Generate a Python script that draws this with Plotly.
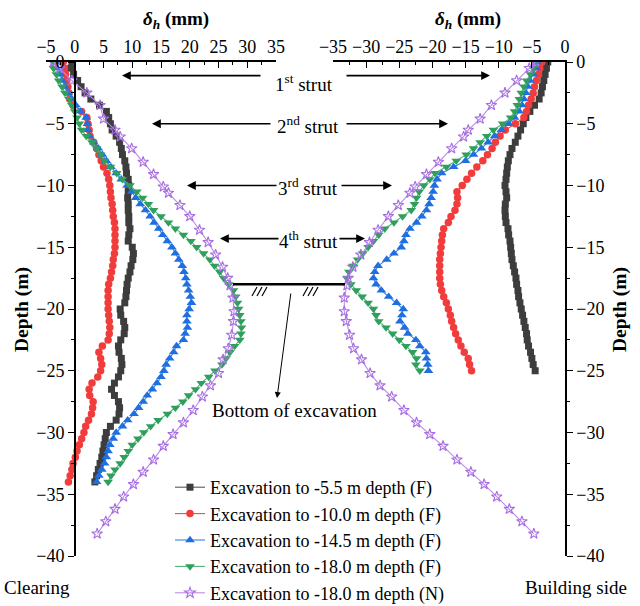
import plotly.graph_objects as go

W, H = 640, 606

# ---------------- data ----------------
DEPTH_L = [0, -0.5, -1, -1.5, -2, -2.5, -3, -3.5, -4, -4.5,
           -5, -5.5, -6, -6.5, -7, -7.5, -8, -8.5, -9, -9.5,
           -10, -10.5, -11, -11.5, -12, -12.5, -13, -13.5, -14, -14.5,
           -15, -15.5, -16, -16.5, -17, -17.5, -18, -18.5, -19, -19.5,
           -20, -20.5, -21, -21.5, -22, -22.5, -23, -23.5, -24, -24.5,
           -25, -25.5, -26, -26.5, -27, -27.5, -28, -28.5, -29, -29.5,
           -30, -30.5, -31, -31.5, -32, -32.5, -33, -33.5, -34]
DEPTH_R = DEPTH_L[:51]

L_55 = [-0.5, -0.7, -0.2, 0.5, 1.1, 1.8, 2.8, 4.3, 5.5, 5.9,
        6.2, 6.5, 7.2, 7.8, 8.1, 8.3, 8.7, 8.9, 9.0, 9.3,
        9.4, 9.3, 9.2, 9.3, 9.3, 9.4, 9.4, 9.6, 9.4, 9.3,
        10.0, 10.2, 10.1, 9.8, 9.6, 9.3, 9.1, 9.0, 8.9, 8.7,
        7.9, 8.0, 8.5, 8.7, 8.6, 8.0, 7.6, 7.7, 8.1, 8.2,
        8.0, 7.6, 6.9, 6.4, 6.9, 7.6, 7.8, 7.7, 7.2, 6.2,
        5.5, 5.3, 5.1, 4.9, 4.7, 4.4, 4.1, 3.8, 3.5]
L_100 = [-2.0, -1.8, -1.6, -1.4, -1.2, -1.0, -0.9, -0.3, 1.2, 2.1,
         2.3, 2.5, 2.65, 3.3, 3.8, 4.2, 4.6, 5.0, 5.6, 5.9,
         6.1, 6.2, 6.3, 6.5, 6.6, 6.7, 6.9, 7.0, 7.0, 7.0,
         7.0, 6.9, 6.7, 6.6, 6.4, 6.2, 5.9, 5.8, 5.8, 5.8,
         5.8, 5.9, 6.0, 6.1, 6.0, 5.8, 4.8, 4.2, 4.5, 4.7,
         4.5, 4.0, 3.0, 2.5, 2.6, 3.2, 3.1, 2.9, 2.4, 1.9,
         1.6, 1.2, 0.8, 0.4, 0.1, -0.3, -0.5, -0.8, -1.1]
L_145 = [-3.3, -3.1, -2.6, -2.2, -1.7, -1.2, -0.5, 0.2, 1.0, 2.0,
         2.2, 2.3, 2.6, 3.3, 4.1, 4.8, 5.5, 6.3, 7.2, 8.1,
         9.1, 9.9, 10.6, 11.4, 12.3, 13.1, 13.8, 14.6, 15.3, 16.1,
         16.9, 17.5, 18.1, 18.7, 19.0, 19.3, 19.5, 19.8, 20.1, 20.3,
         19.9, 19.5, 19.5, 19.6, 19.2, 18.9, 17.7, 17.2, 16.5, 15.9,
         15.5, 15.0, 14.3, 13.5, 12.6, 11.9, 11.1, 10.3, 9.2, 8.3,
         7.2, 6.7, 6.1, 5.8, 5.5, 5.2, 4.7, 4.2, 3.8]
L_180 = [-3.8, -3.7, -3.2, -2.8, -2.2, -1.7, -1.0, -0.5, 0.0, 0.4,
         0.8, 1.2, 2.0, 3.0, 3.8, 4.5, 5.2, 6.2, 7.3, 8.3,
         9.6, 10.8, 11.8, 12.8, 13.7, 15.0, 16.3, 17.5, 18.9, 20.2,
         21.2, 22.4, 23.5, 24.3, 25.2, 25.9, 26.8, 27.6, 28.0, 28.3,
         28.5, 28.7, 28.9, 29.0, 28.9, 28.7, 27.8, 27.0, 26.3, 25.6,
         24.4, 23.3, 22.0, 21.0, 19.8, 18.8, 17.5, 16.1, 14.5, 13.2,
         12.0, 11.0, 10.0, 9.3, 8.6, 7.9, 7.0, 6.3, 5.8]

R_55 = [-2.6, -2.8, -3.0, -3.2, -3.4, -3.6, -3.9, -4.6, -5.3, -5.9,
        -6.3, -6.7, -7.1, -7.5, -8.0, -8.3, -8.55, -8.7, -8.8, -8.9,
        -9.05, -8.9, -8.8, -9.0, -9.05, -9.0, -8.9, -8.6, -8.5, -8.3,
        -8.2, -8.1, -8.0, -7.8, -7.6, -7.4, -7.3, -7.1, -7.0, -6.8,
        -6.6, -6.4, -6.2, -6.0, -5.8, -5.7, -5.5, -5.2, -5.0, -4.8,
        -4.5]
R_100 = [-3.5, -3.8, -4.0, -4.3, -4.6, -4.8, -5.1, -5.5, -5.8, -6.2,
         -7.5, -9.0, -9.8, -10.5, -11.0, -11.7, -12.4, -13.3, -14.1, -14.8,
         -15.5, -16.3, -16.2, -16.3, -16.6, -17.2, -17.6, -18.3, -18.5, -18.6,
         -18.7, -18.8, -18.9, -18.9, -18.9, -18.9, -18.8, -18.6, -18.3, -17.9,
         -17.6, -17.3, -17.1, -16.8, -16.5, -16.1, -15.7, -15.2, -14.6, -14.4,
         -14.1]
R_145 = [-4.2, -4.3, -4.8, -5.3, -5.6, -5.9, -6.2, -6.5, -6.9, -7.6,
         -8.5, -9.6, -10.6, -11.6, -12.6, -13.8, -15.0, -16.8, -18.6, -19.3,
         -19.7, -19.9, -20.2, -20.5, -20.9, -21.6, -22.4, -23.4, -24.0, -24.3,
         -24.7, -25.8, -26.9, -28.2, -28.7, -28.9, -28.5, -27.7, -26.6, -25.4,
         -24.4, -24.6, -24.9, -24.2, -23.7, -22.5, -21.9, -21.0, -20.9, -20.7,
         -20.6]
R_180 = [-4.7, -4.8, -5.2, -5.8, -6.2, -6.6, -6.9, -7.2, -7.6, -8.2,
         -9.4, -10.8, -11.8, -12.8, -13.8, -14.9, -16.4, -17.9, -19.6, -20.4,
         -21.3, -22.0, -22.4, -22.7, -23.2, -24.5, -25.8, -27.2, -28.1, -28.9,
         -29.7, -30.5, -31.3, -32.0, -32.6, -32.9, -32.3, -31.5, -30.6, -29.7,
         -28.9, -28.5, -28.1, -27.0, -26.0, -25.0, -24.0, -23.0, -22.4, -22.5,
         -21.9]

DEPTH_N = [0, -0.5, -1.5, -2.5, -3.5, -4.6, -5.5, -6.05, -7.0, -8.1,
           -9.1, -10.1, -10.6, -11.6, -12.5, -13.6, -14.6, -15.6, -16.6, -17.5,
           -18.1, -19.1, -20.2, -21.0, -22.1, -23.2, -24.1, -25.2, -26.2, -27.1,
           -28.2, -29.2, -30.15, -31.1, -32.2, -33.2, -34.2, -35.2, -36.2, -37.2,
           -38.2]
L_N = [-3.7, -2.6, -0.5, 2.1, 4.4, 5.0, 7.0, 7.9, 9.9, 11.9,
       13.7, 15.4, 16.3, 18.3, 20.0, 21.7, 23.2, 24.5, 25.7, 26.6,
       27.0, 27.5, 27.7, 27.6, 27.3, 26.7, 25.8, 25.0, 23.6, 22.2,
       20.6, 18.9, 17.1, 15.4, 13.7, 11.9, 10.2, 8.5, 7.0, 5.4,
       3.9]
R_N = [-4.5, -5.4, -7.3, -9.05, -11.1, -12.8, -14.6, -15.3, -17.1, -19.1,
       -20.9, -22.6, -23.4, -25.15, -26.65, -28.2, -29.5, -30.8, -32.0, -32.7,
       -32.9, -33.3, -33.3, -33.0, -32.5, -31.9, -30.7, -29.4, -27.9, -26.15,
       -24.3, -22.4, -20.4, -18.4, -16.3, -14.2, -12.2, -10.3, -8.4, -6.5,
       -4.7]

SERIES_NAMES = ["Excavation to -5.5 m depth (F)",
                "Excavation to -10.0 m depth (F)",
                "Excavation to -14.5 m depth (F)",
                "Excavation to -18.0 m depth (F)",
                "Excavation to -18.0 m depth (N)"]
STRUT_DEPTHS = [-1.1, -5.0, -10.0, -14.3]
STRUT_LABELS = ["1<sup>st</sup> strut", "2<sup>nd</sup> strut",
                "3<sup>rd</sup> strut", "4<sup>th</sup> strut"]
EXCAVATION_DEPTH = -18.0
LEFT_TICKS = [-5, 0, 5, 10, 15, 20, 25, 30, 35]
RIGHT_TICKS = [-35, -30, -25, -20, -15, -10, -5, 0]
DEPTH_TICKS = [0, -5, -10, -15, -20, -25, -30, -35, -40]

# ---------------- styles ----------------
FONT = "Liberation Serif, Times New Roman, serif"
TXT = 19
styles = [
    dict(symbol="square", size=7, color="#3d3d3d", line="#5a5a5a"),
    dict(symbol="circle", size=7.5, color="#f23c3c", line="#f04a4a"),
    dict(symbol="triangle-up", size=8.5, color="#1f6fe0", line="#3a7fe4"),
    dict(symbol="triangle-down", size=8.5, color="#2ea05c", line="#55b07a"),
    dict(symbol="star-open", size=8, color="#a66de2", line="#b98ce8"),
]

left_x = [L_55, L_100, L_145, L_180, L_N]
right_x = [R_55, R_100, R_145, R_180, R_N]
depths_l = [DEPTH_L] * 4 + [DEPTH_N]
depths_r = [DEPTH_R] * 4 + [DEPTH_N]

fig = go.Figure()
for i, st in enumerate(styles):
    mk = dict(symbol=st["symbol"], size=st["size"], color=st["color"],
              line=dict(width=1.1 if st["symbol"] == "star-open" else 0, color=st["color"]))
    fig.add_trace(go.Scatter(x=left_x[i], y=depths_l[i], mode="lines+markers",
                             name=SERIES_NAMES[i], legendgroup=str(i),
                             marker=mk, line=dict(color=st["line"], width=1.1),
                             xaxis="x", yaxis="y"))
    fig.add_trace(go.Scatter(x=right_x[i], y=depths_r[i], mode="lines+markers",
                             name=SERIES_NAMES[i], legendgroup=str(i), showlegend=False,
                             marker=mk, line=dict(color=st["line"], width=1.1),
                             xaxis="x2", yaxis="y2"))

# ---------------- layout geometry (pixels) ----------------
def P(px):
    return px / W

def Q(py):
    return 1 - py / H

LX0, LX1 = 46, 276
RX0, RX1 = 333, 565
YT, YB = 62, 556
LRANGE = [-5, 35]
RRANGE = [-35, 0]
left_zero_px = LX0 + (0 - LRANGE[0]) / (LRANGE[1] - LRANGE[0]) * (LX1 - LX0)

tickfont = dict(family=FONT, size=18, color="black")
xcommon = dict(side="top", ticks="inside", ticklen=6, tickwidth=1.3, showline=True,
               linewidth=1.5, linecolor="black", showgrid=False, zeroline=False,
               tickfont=tickfont, tickcolor="black", automargin=False,
               minor=dict(ticks="inside", ticklen=3.5, dtick=2.5, tickwidth=1.2,
                          tickcolor="black", showgrid=False))
ycommon = dict(range=[-40, 0], ticks="outside", ticklen=6, tickwidth=1.3, showline=True,
               linewidth=1.5, linecolor="black", showgrid=False, zeroline=False,
               tickfont=tickfont, tickcolor="black", tickvals=DEPTH_TICKS,
               domain=[Q(YB), Q(YT)], automargin=False,
               minor=dict(ticks="outside", ticklen=3.5, dtick=2.5, tickwidth=1.2,
                          tickcolor="black", showgrid=False))

fig.update_layout(
    template="none",
    width=W, height=H,
    margin=dict(l=0, r=0, t=0, b=0, autoexpand=False),
    paper_bgcolor="white", plot_bgcolor="rgba(0,0,0,0)",
    font=dict(family=FONT, size=TXT, color="black"),
    xaxis=dict(domain=[P(LX0), P(LX1)], range=LRANGE, tickvals=LEFT_TICKS,
               anchor="y", **xcommon),
    yaxis=dict(anchor="free", position=P(left_zero_px), side="left", **ycommon),
    xaxis2=dict(domain=[P(RX0), P(RX1)], range=RRANGE, tickvals=RIGHT_TICKS,
                anchor="y2", **xcommon),
    yaxis2=dict(anchor="x2", side="right", **ycommon),
    legend=dict(x=P(170), y=Q(469), xanchor="left", yanchor="top",
                bgcolor="rgba(0,0,0,0)", borderwidth=0,
                font=dict(family=FONT, size=18, color="black"),
                tracegroupgap=0, itemwidth=30),
    showlegend=True,
)

def txt(text, px, py, size=TXT, **kw):
    return dict(text=text, x=P(px), y=Q(py), xref="paper", yref="paper",
                xanchor="center", yanchor="middle", showarrow=False,
                font=dict(size=size), **kw)

ann = []
title_txt = "<b><i>δ</i><sub><i>h</i></sub> (mm)</b>"
ann.append(txt(title_txt, 176, 20, size=19))
ann.append(txt(title_txt, 468, 20, size=19))
ann.append(txt("<b>Depth (m)</b>", 22, 310, size=19.5, textangle=-90))
ann.append(txt("<b>Depth (m)</b>", 620, 310, size=19.5, textangle=-90))

left_heads = [122, 152, 187, 220]
left_tails = [262, 272, 278, 280]
right_tails = [345, 345, 340, 338]
right_heads = [490, 448, 392, 365]
label_x = [304, 308, 308, 308]
for i, d in enumerate(STRUT_DEPTHS):
    ann.append(dict(text="", x=P(left_heads[i]), y=d, xref="paper", yref="y",
                    ax=left_tails[i] - left_heads[i], ay=0, showarrow=True,
                    arrowhead=2, arrowsize=1.1, arrowwidth=1.6, arrowcolor="black"))
    ann.append(dict(text="", x=P(right_heads[i]), y=d, xref="paper", yref="y",
                    ax=right_tails[i] - right_heads[i], ay=0, showarrow=True,
                    arrowhead=2, arrowsize=1.1, arrowwidth=1.6, arrowcolor="black"))
    ann.append(dict(text=STRUT_LABELS[i], x=P(label_x[i]), y=d, xref="paper", yref="y",
                    xanchor="center", yanchor="middle",
                    yshift=-7 if i == 0 else -1, showarrow=False,
                    font=dict(size=TXT)))

ann.append(dict(text="", x=P(277), y=Q(398), xref="paper", yref="paper",
                ax=14, ay=-106, showarrow=True, arrowhead=2, arrowsize=1.2,
                arrowwidth=1, arrowcolor="black"))
ann.append(txt("Bottom of excavation", 294, 410))
ann.append(txt("Clearing", 37, 587))
ann.append(txt("Building side", 576, 587))
fig.update_layout(annotations=ann)

shapes = [dict(type="line", xref="paper", yref="y", x0=P(233), x1=P(345),
               y0=EXCAVATION_DEPTH, y1=EXCAVATION_DEPTH,
               line=dict(color="black", width=2.5))]
for gx in (252, 303):
    for k in range(3):
        x0 = gx + 5 * k
        shapes.append(dict(type="line", xref="paper", yref="paper",
                           x0=P(x0), y0=Q(296), x1=P(x0 + 5), y1=Q(287),
                           line=dict(color="black", width=1.2)))
fig.update_layout(shapes=shapes)

fig.write_html("out.html", config={"displayModeBar": False},
               post_script="document.body.style.margin='0';document.body.style.overflow='hidden';")
